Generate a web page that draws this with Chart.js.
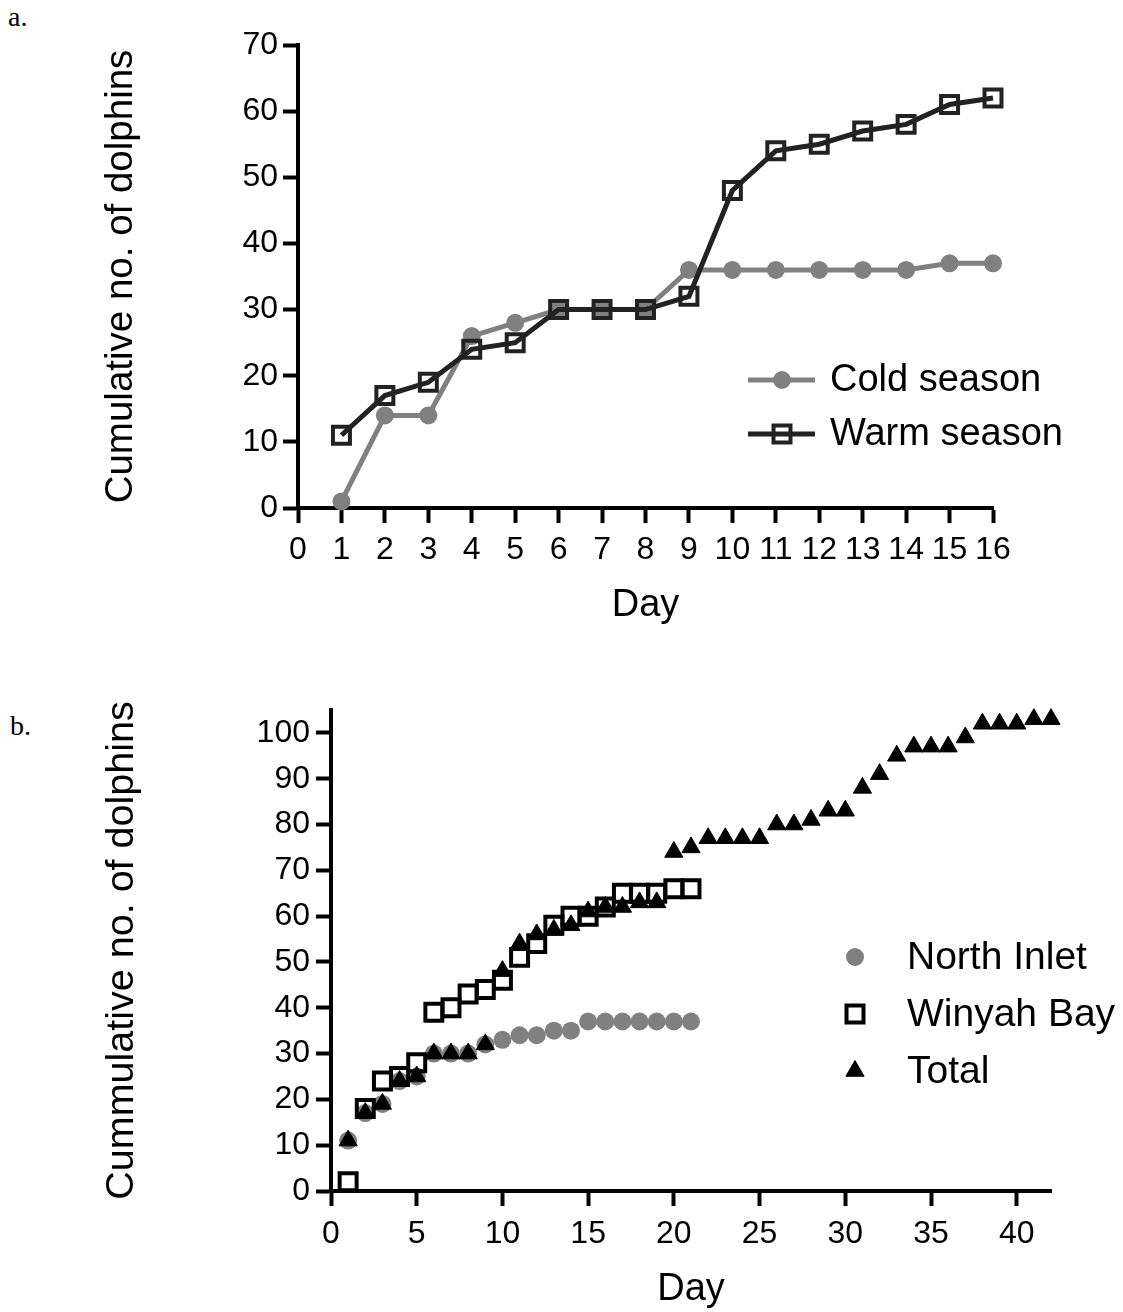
<!DOCTYPE html>
<html>
<head>
<meta charset="utf-8">
<script src="https://cdn.jsdelivr.net/npm/chart.js@4/dist/chart.umd.min.js"></script>
<style>
  html, body { margin: 0; padding: 0; background: #fff; }
  body { width: 1123px; height: 1312px; position: relative; overflow: hidden; }
  canvas { position: absolute; left: 0; }
  .panel-label { position: absolute; font-family: "Liberation Serif", "DejaVu Serif", serif; font-size: 28px; color: #000; }
</style>
</head>
<body>
<div class="panel-label" style="left:8px; top:1px;">a.</div>
<div class="panel-label" style="left:10px; top:710px;">b.</div>
<canvas id="chartA" width="1123" height="650" style="top:0px;"></canvas>
<canvas id="chartB" width="1123" height="662" style="top:650px;"></canvas>
<script>
// Panel a: cumulative count by season
const seasonDays = [1, 2, 3, 4, 5, 6, 7, 8, 9, 10, 11, 12, 13, 14, 15, 16];
const coldSeason = [1, 14, 14, 26, 28, 30, 30, 30, 36, 36, 36, 36, 36, 36, 37, 37];
const warmSeason = [11, 17, 19, 24, 25, 30, 30, 30, 32, 48, 54, 55, 57, 58, 61, 62];
const seasonLabels = ['Cold season', 'Warm season'];

// Panel b: cumulative count by site
const northDays = [1, 2, 3, 4, 5, 6, 7, 8, 9, 10, 11, 12, 13, 14, 15, 16, 17, 18, 19, 20, 21];
const northInlet = [11, 17, 19, 24, 25, 30, 30, 30, 32, 33, 34, 34, 35, 35, 37, 37, 37, 37, 37, 37, 37];
const winyahDays = [1, 2, 3, 4, 5, 6, 7, 8, 9, 10, 11, 12, 13, 14, 15, 16, 17, 18, 19, 20, 21];
const winyahBay = [2, 18, 24, 25, 28, 39, 40, 43, 44, 46, 51, 54, 58, 60, 60, 62, 65, 65, 65, 66, 66];
const totalDays = [1, 2, 3, 4, 5, 6, 7, 8, 9, 10, 11, 12, 13, 14, 15, 16, 17, 18, 19, 20, 21,
                   22, 23, 24, 25, 26, 27, 28, 29, 30, 31, 32, 33, 34, 35, 36, 37, 38, 39, 40, 41, 42];
const totalCount = [11, 17, 19, 24, 25, 30, 30, 30, 32, 48, 54, 56, 57, 58, 61, 62, 62, 63, 63, 74, 75,
                    77, 77, 77, 77, 80, 80, 81, 83, 83, 88, 91, 95, 97, 97, 97, 99, 102, 102, 102, 103, 103];
const siteLabels = ['North Inlet', 'Winyah Bay', 'Total'];

const FONT = '"Liberation Sans", Arial, Helvetica, sans-serif';
Chart.defaults.font.family = FONT;
Chart.defaults.color = '#000';

const GRAY = '#808080';
const DARK = '#222222';

const toPoints = (xs, ys) => xs.map((x, i) => ({ x: x, y: ys[i] }));

// Legend drawn inside the plot: sample (line and/or marker) followed by the dataset label
const insideLegend = {
  id: 'insideLegend',
  afterDraw(chart, args, opts) {
    const ctx = chart.ctx;
    chart.data.datasets.forEach((ds, i) => {
      const y = opts.top + i * opts.rowGap;
      ctx.save();
      if (opts.lines) {
        ctx.beginPath();
        ctx.lineWidth = ds.borderWidth;
        ctx.strokeStyle = ds.borderColor;
        ctx.moveTo(opts.lineStart, y);
        ctx.lineTo(opts.lineEnd, y);
        ctx.stroke();
      }
      ctx.fillStyle = ds.pointBackgroundColor;
      ctx.strokeStyle = ds.pointBorderColor;
      ctx.lineWidth = ds.pointBorderWidth;
      Chart.helpers.drawPoint(ctx, {
        pointStyle: ds.pointStyle,
        radius: ds.pointRadius,
        borderWidth: ds.pointBorderWidth,
        rotation: 0
      }, opts.markerX, y);
      ctx.fillStyle = '#000';
      ctx.font = opts.fontSize + 'px ' + FONT;
      ctx.textAlign = 'left';
      ctx.textBaseline = 'middle';
      ctx.fillText(ds.label, opts.textX, y + 1);
      ctx.restore();
    });
  }
};

function axisStyle(extra) {
  return Object.assign({
    type: 'linear',
    border: { display: true, color: '#000', width: 4 },
    grid: { drawOnChartArea: false, drawTicks: true, tickLength: 15, tickWidth: 4, tickColor: '#000' },
  }, extra);
}

// ---------- Panel a ----------
new Chart(document.getElementById('chartA'), {
  type: 'line',
  data: {
    datasets: [
      {
        label: seasonLabels[0],
        data: toPoints(seasonDays, coldSeason),
        borderColor: GRAY, borderWidth: 5,
        pointStyle: 'circle', pointRadius: 9, pointBorderWidth: 0,
        pointBackgroundColor: GRAY, pointBorderColor: GRAY,
        tension: 0, order: 2, clip: false
      },
      {
        label: seasonLabels[1],
        data: toPoints(seasonDays, warmSeason),
        borderColor: DARK, borderWidth: 5,
        pointStyle: 'rect', pointRadius: 12, pointBorderWidth: 4,
        pointBackgroundColor: 'rgba(0,0,0,0)', pointBorderColor: DARK,
        tension: 0, order: 1, clip: false
      }
    ]
  },
  options: {
    responsive: false,
    animation: false,
    events: [],
    layout: { padding: { left: 0, right: 130, top: 45, bottom: 22 } },
    plugins: {
      legend: { display: false },
      tooltip: { enabled: false },
      insideLegend: { top: 380, rowGap: 54, lines: true, lineStart: 748, lineEnd: 815, markerX: 782, textX: 830, fontSize: 38 }
    },
    scales: {
      x: axisStyle({
        position: 'bottom', min: 0, max: 16,
        ticks: { stepSize: 1, padding: 8, font: { size: 32 }, maxRotation: 0, autoSkip: false },
        title: { display: true, text: 'Day', font: { size: 38 }, padding: { top: 0, bottom: 0 } },
        afterFit(scale) { scale.height = 120; }
      }),
      y: axisStyle({
        position: 'left', min: 0, max: 70,
        ticks: { stepSize: 10, padding: 5, font: { size: 32 } },
        title: { display: true, text: 'Cumulative no. of dolphins', font: { size: 38.5 }, padding: { top: 98, bottom: 0 } },
        afterFit(scale) { scale.width = 298; }
      })
    }
  },
  plugins: [insideLegend]
});

// ---------- Panel b ----------
new Chart(document.getElementById('chartB'), {
  type: 'scatter',
  data: {
    datasets: [
      {
        label: siteLabels[0],
        data: toPoints(northDays, northInlet),
        pointStyle: 'circle', pointRadius: 9, pointBorderWidth: 0,
        pointBackgroundColor: GRAY, pointBorderColor: GRAY,
        backgroundColor: GRAY, borderColor: GRAY,
        showLine: false, order: 3, clip: false
      },
      {
        label: siteLabels[1],
        data: toPoints(winyahDays, winyahBay),
        pointStyle: 'rect', pointRadius: 12, pointBorderWidth: 4,
        pointBackgroundColor: 'rgba(0,0,0,0)', pointBorderColor: '#000',
        backgroundColor: 'rgba(0,0,0,0)', borderColor: '#000',
        showLine: false, order: 2, clip: false
      },
      {
        label: siteLabels[2],
        data: toPoints(totalDays, totalCount),
        pointStyle: 'triangle', pointRadius: 10.5, pointBorderWidth: 1,
        pointBackgroundColor: '#000', pointBorderColor: '#000',
        backgroundColor: '#000', borderColor: '#000',
        showLine: false, order: 1, clip: false
      }
    ]
  },
  options: {
    responsive: false,
    animation: false,
    events: [],
    layout: { padding: { left: 0, right: 72, top: 60, bottom: 0 } },
    plugins: {
      legend: { display: false },
      tooltip: { enabled: false },
      insideLegend: { top: 307, rowGap: 57, lines: false, markerX: 855, textX: 907, fontSize: 39 }
    },
    scales: {
      x: axisStyle({
        position: 'bottom', min: 0, max: 42,
        ticks: { stepSize: 5, includeBounds: false, padding: 9, font: { size: 32 }, maxRotation: 0, autoSkip: false },
        title: { display: true, text: 'Day', font: { size: 38 }, padding: { top: 0, bottom: 0 } },
        afterFit(scale) { scale.height = 121; }
      }),
      y: axisStyle({
        position: 'left', min: 0, max: 105,
        ticks: { stepSize: 10, includeBounds: false, padding: 6, font: { size: 32 } },
        title: { display: true, text: 'Cummulative no. of dolphins', font: { size: 39.5 }, padding: { top: 98, bottom: 0 } },
        afterFit(scale) { scale.width = 331; }
      })
    }
  },
  plugins: [insideLegend]
});
</script>
</body>
</html>
